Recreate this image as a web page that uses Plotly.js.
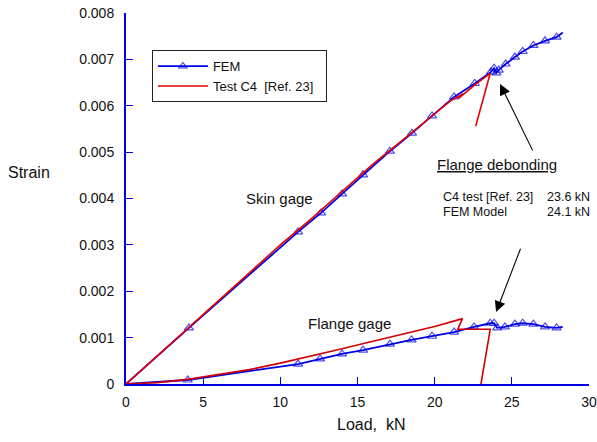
<!DOCTYPE html>
<html>
<head>
<meta charset="utf-8">
<script src="https://cdn.plot.ly/plotly-3.0.1.min.js"></script>
<style>html,body{margin:0;padding:0;background:#fff;}#chart{width:597px;height:442px;}</style>
</head>
<body>
<div id="chart"></div>
<script>
// FEM, skin gage
const femSkinLoad = [0, 4.08, 11.15, 12.64, 14.0, 15.36, 17.1, 18.53, 19.83, 21.26, 22.6, 23.65, 23.85, 24.0, 24.15, 24.6, 25.2, 25.7, 26.4, 27.15, 27.9, 28.3];
const femSkinStrain = [0, 0.00121, 0.00328, 0.00369, 0.00410, 0.00451, 0.00502, 0.00541, 0.00578, 0.00619, 0.00648, 0.00673, 0.00681, 0.00671, 0.00677, 0.00690, 0.00705, 0.00717, 0.00730, 0.00740, 0.00748, 0.00758];
// FEM, flange gage
const femFlangeLoad = [0, 4.0, 11.15, 12.57, 14.0, 15.36, 17.1, 18.5, 19.83, 21.26, 22.55, 23.6, 23.85, 24.05, 24.55, 25.2, 25.7, 26.4, 27.15, 27.9, 28.3];
const femFlangeStrain = [0, 0.000086, 0.00043, 0.00054, 0.00065, 0.00073, 0.00086, 0.00095, 0.00103, 0.00112, 0.00123, 0.00131, 0.00131, 0.00121, 0.00123, 0.00129, 0.00131, 0.00129, 0.00123, 0.00121, 0.00123];
// Test C4, skin gage
const testSkinLoad = [0, 2, 4, 6, 8, 10, 12, 14, 16, 18, 19.8, 21.0, 21.85, 21.55, 22.6, 23.6, 22.66];
const testSkinStrain = [0, 0.00060, 0.00119, 0.00179, 0.00240, 0.00300, 0.00356, 0.00414, 0.00474, 0.00528, 0.00577, 0.00610, 0.00626, 0.00616, 0.00645, 0.00670, 0.00556];
// Test C4, flange gage
const testFlangeLoad = [0, 2, 4, 6, 8, 10, 12, 14, 16, 18, 20, 21.8, 21.5, 23.6, 23.0];
const testFlangeStrain = [0, 0.00003, 0.00010, 0.00020, 0.00031, 0.00045, 0.00060, 0.00076, 0.00092, 0.00108, 0.00124, 0.00141, 0.00118, 0.00118, 0.0];

const xTicks = [0, 5, 10, 15, 20, 25, 30];
const yTicks = [0, 0.001, 0.002, 0.003, 0.004, 0.005, 0.006, 0.007, 0.008];

const BLUE = '#0000e6';
const RED = '#e60000';
const FONT = 'Liberation Sans, Arial, sans-serif';

function markerSizes(arr) {
  return arr.map((v, i) => (i === 0 || i === arr.length - 1) ? 0 : 8);
}

const femMarker = (xs) => ({symbol: 'triangle-up-open', size: markerSizes(xs), color: BLUE, line: {width: 1.2, color: BLUE}});

const traces = [
  {x: femSkinLoad, y: femSkinStrain, mode: 'lines+markers', name: 'FEM', legendgroup: 'fem',
   line: {color: BLUE, width: 1.8}, marker: femMarker(femSkinLoad)},
  {x: femFlangeLoad, y: femFlangeStrain, mode: 'lines+markers', name: 'FEM', legendgroup: 'fem', showlegend: false,
   line: {color: BLUE, width: 1.8}, marker: femMarker(femFlangeLoad)},
  {x: testSkinLoad, y: testSkinStrain, mode: 'lines', name: 'Test C4&nbsp;&nbsp;[Ref. 23]&nbsp;&nbsp;', legendgroup: 'test',
   line: {color: RED, width: 1.6}},
  {x: testFlangeLoad, y: testFlangeStrain, mode: 'lines', name: 'Test C4', legendgroup: 'test', showlegend: false,
   line: {color: '#d00000', width: 1.6}}
];

const txt = (t, x, y, opts) => Object.assign({text: t, x: x, y: y, xref: 'x', yref: 'y', showarrow: false,
  font: {family: FONT, size: 15, color: '#111'}}, opts || {});
const small = {family: FONT, size: 12.5, color: '#111'};

const layout = {
  width: 597, height: 442,
  margin: {l: 126, r: 8, t: 13, b: 58},
  paper_bgcolor: '#fff', plot_bgcolor: '#fff',
  showlegend: true,
  legend: {x: 0.056, y: 0.9, xanchor: 'left', yanchor: 'top', bgcolor: '#fff', bordercolor: '#222', borderwidth: 1,
    font: {family: FONT, size: 13, color: '#111'}, itemwidth: 50, tracegroupgap: 0},
  xaxis: {range: [0, 30], tickvals: xTicks, ticktext: xTicks.map(String), showgrid: false, zeroline: false,
    showline: true, linecolor: BLUE, linewidth: 2, ticks: 'inside', ticklen: 7, tickwidth: 1, tickcolor: BLUE,
    ticklabelstandoff: 4, tickfont: {family: FONT, size: 14, color: '#111'}},
  yaxis: {range: [0, 0.008], tickvals: yTicks, ticktext: yTicks.map(v => v === 0 ? '0' : v.toFixed(3)), showgrid: false, zeroline: false,
    showline: true, linecolor: BLUE, linewidth: 2, ticks: 'inside', ticklen: 7, tickwidth: 1, tickcolor: BLUE,
    ticklabelstandoff: 7, tickfont: {family: FONT, size: 14, color: '#111'}},
  annotations: [
    {text: 'Strain', xref: 'paper', yref: 'paper', x: -0.2095, y: 0.5714, xanchor: 'center', yanchor: 'middle', showarrow: false,
     font: {family: FONT, size: 16, color: '#111'}},
    {text: 'Load,&nbsp;&nbsp;kN', xref: 'paper', yref: 'paper', x: 0.529, y: -0.1105, xanchor: 'center', yanchor: 'middle', showarrow: false,
     font: {family: FONT, size: 16, color: '#111'}},
    txt('Skin gage', 9.92, 0.00401),
    txt('Flange gage', 14.45, 0.001315),
    txt('<u>Flange debonding</u>', 24.04, 0.00474),
    txt('C4 test [Ref. 23]', 20.5, 0.00403, {xanchor: 'left', borderpad: 0, font: small}),
    txt('FEM Model', 20.5, 0.00371, {xanchor: 'left', borderpad: 0, font: small}),
    txt('23.6 kN', 30, 0.00403, {xanchor: 'right', xshift: 2, borderpad: 0, font: small}),
    txt('24.1 kN', 30, 0.00371, {xanchor: 'right', xshift: 2, borderpad: 0, font: small}),
    {text: '', x: 24.24, y: 0.00647, xref: 'x', yref: 'y', ax: 26.4, ay: 0.0050, axref: 'x', ayref: 'y',
     showarrow: true, arrowhead: 2, arrowsize: 2, arrowwidth: 1.1, arrowcolor: '#000', standoff: 0},
    {text: '', x: 23.98, y: 0.00155, xref: 'x', yref: 'y', ax: 25.6, ay: 0.00295, axref: 'x', ayref: 'y',
     showarrow: true, arrowhead: 2, arrowsize: 2, arrowwidth: 1.1, arrowcolor: '#000', standoff: 0}
  ]
};

Plotly.newPlot('chart', traces, layout, {displayModeBar: false, staticPlot: true});
</script>
</body>
</html>
